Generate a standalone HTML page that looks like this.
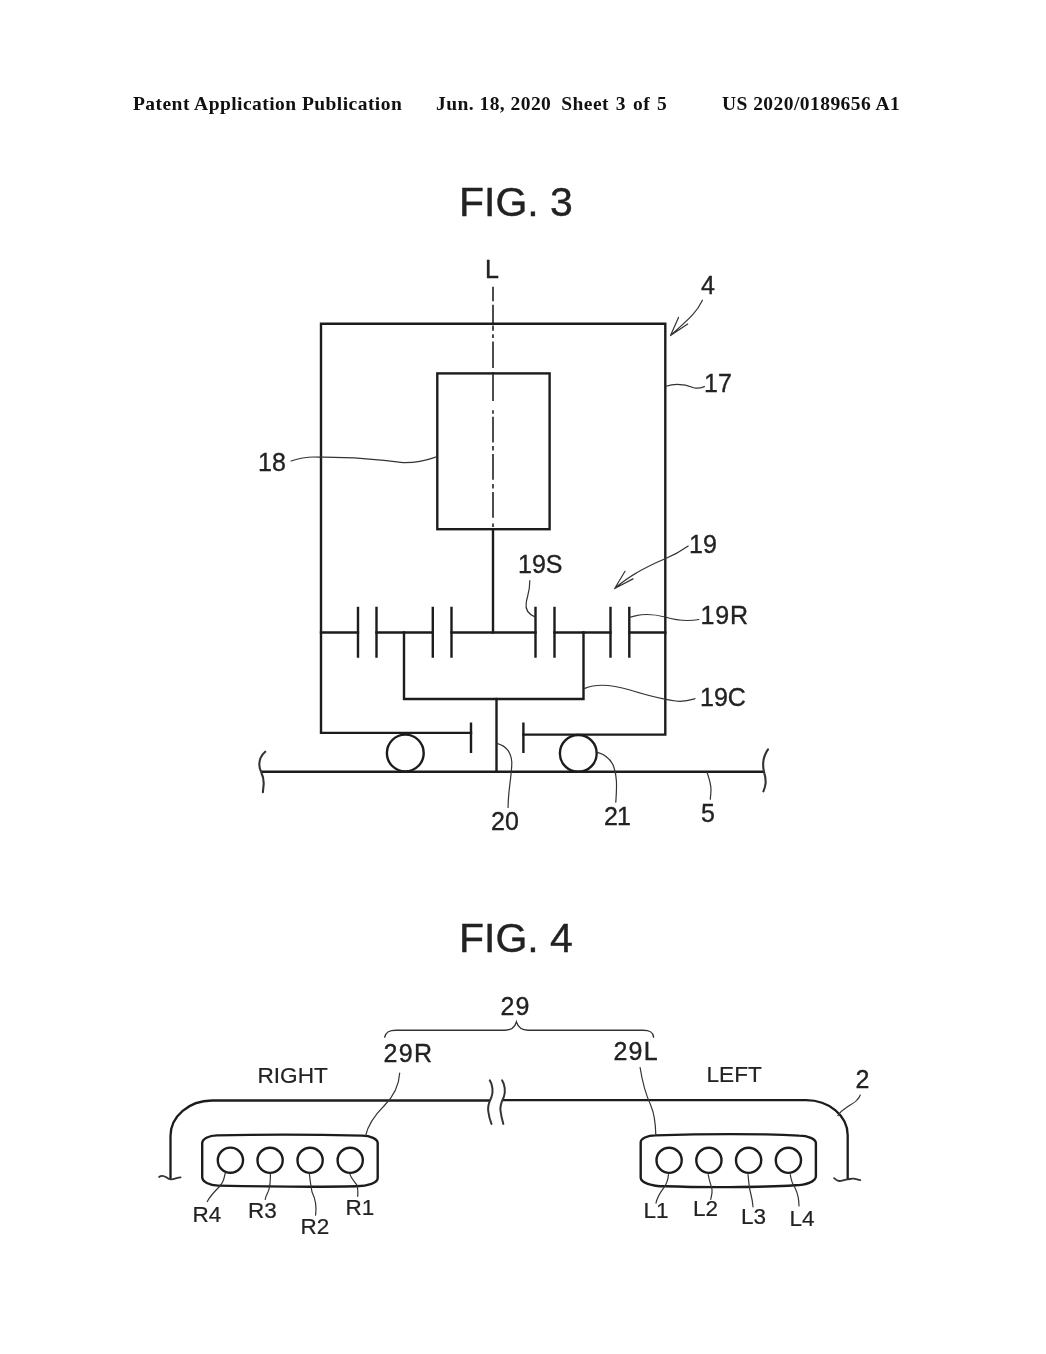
<!DOCTYPE html>
<html><head><meta charset="utf-8"><title>Patent Application Publication - FIG. 3 / FIG. 4</title>
<style>
html,body{margin:0;padding:0;background:#fff;}
body{width:1046px;height:1354px;overflow:hidden;position:relative;}
svg{position:absolute;left:0;top:0;display:block;will-change:transform;}
.hd{font-family:"Liberation Serif",serif;font-weight:bold;font-size:19.5px;fill:#111;letter-spacing:0.45px;}
.fig{font-family:"Liberation Sans",sans-serif;font-size:41px;fill:#222;stroke:#222;stroke-width:0.4px;}
.lb{font-family:"Liberation Sans",sans-serif;font-size:25px;fill:#222;stroke:#222;stroke-width:0.35px;}
.ls{font-family:"Liberation Sans",sans-serif;font-size:22.5px;fill:#222;stroke:#222;stroke-width:0.2px;}
.m{fill:none;stroke:#1c1c1c;stroke-width:2.4;stroke-linecap:square;}
.c{fill:none;stroke:#1c1c1c;stroke-width:2.4;}
.t{fill:none;stroke:#333;stroke-width:1.2;stroke-linecap:round;}
.cl{fill:none;stroke:#222;stroke-width:1.6;}
</style></head>
<body>
<svg width="1046" height="1354" viewBox="0 0 1046 1354">
<!-- header -->
<text class="hd" x="133" y="109.5">Patent Application Publication</text>
<text class="hd" x="436" y="109.5">Jun. 18, 2020</text>
<text class="hd" x="561.2" y="109.5" style="word-spacing:1.6px">Sheet 3 of 5</text>
<text class="hd" x="722" y="109.5">US 2020/0189656 A1</text>

<!-- FIG 3 -->
<text class="fig" x="459" y="216.3">FIG. 3</text>
<text class="lb" x="485" y="278">L</text>
<text class="lb" x="701" y="293.5">4</text>
<text class="lb" x="704" y="391.5">17</text>
<text class="lb" x="258" y="471.2">18</text>
<text class="lb" x="689" y="553">19</text>
<text class="lb" x="518" y="572.5">19S</text>
<text class="lb" x="700.5" y="624.2" style="letter-spacing:0.8px">19R</text>
<text class="lb" x="700" y="706">19C</text>
<text class="lb" x="491" y="830.3">20</text>
<text class="lb" x="604" y="825" style="letter-spacing:-1px">21</text>
<text class="lb" x="701" y="821.5">5</text>

<!-- outer box 17 -->
<path class="m" d="M471 732.9 H321 V323.7 H665.3 V734.6 H523.4"/>
<!-- inner box 18 -->
<rect class="m" x="437.3" y="373.4" width="112.3" height="155.8"/>
<!-- center line L -->
<path class="cl" d="M493 286.7V301.2 M493 304.8V323 M493 325.5V330.7 M493 334.3V338 M493 341.5V368 M493 372V401 M493 410.2V413.8 M493 416.7V442.5 M493 446V450.6 M493 454V479.8 M493 484V488.4 M493 492V517.8 M493 523.5V527"/>
<!-- shaft -->
<path class="m" d="M493 529.2V632.5"/>
<!-- ring line -->
<path class="m" d="M321 632.5H358 M376.5 632.5H432.8 M451.5 632.5H535.5 M554.5 632.5H610.5 M629.3 632.5H665.3"/>
<!-- gear plates -->
<path class="m" d="M358 608V656.5 M376.5 608V656.5 M432.8 608V656.5 M451.5 608V656.5 M535.5 608V656.5 M554.5 608V656.5 M610.5 608V656.5 M629.3 608V656.5"/>
<!-- carrier -->
<path class="m" d="M404 632.5V699H583.5V632.5"/>
<!-- shaft 20 -->
<path class="m" d="M496.5 699V771.7"/>
<!-- bottom plates -->
<path class="m" d="M471 723.6V751.8 M523.4 723.6V751.8"/>
<!-- wheels -->
<circle class="c" cx="405.3" cy="753" r="18.4"/>
<circle class="c" cx="578.3" cy="753.4" r="18.4"/>
<!-- ground -->
<path class="m" style="stroke-linecap:butt" d="M261 771.8H764"/>
<path class="t" style="stroke-width:2.1" d="M265.2 751.7 C262 754.5 259.5 759 259.3 764 C259.3 767.5 260 769.5 261 771.5 C263 776 264 781 263.6 785 C263.3 788 263 790.5 262.9 792.3"/>
<path class="t" style="stroke-width:2.1" d="M768 749.3 C765.5 753 763.5 758 763.2 762.5 C763 766 763.3 769 764 771.9 C765 775 765.8 779 765.6 783 C765.4 786 764.5 789 763.4 791.4"/>

<!-- leaders fig3 -->
<path class="t" d="M702.4 300.2 C697 312 690 318 670.5 335.5 M670.5 335.5 L678.5 317.4 M670.5 335.5 L687.7 324"/>
<path class="t" d="M666 386.2 C676 383 684 384 693.8 387.7 C698 389 701 388 704.4 386.6"/>
<path class="t" d="M291.1 461 C300 458 310 456.5 318.8 457.2 C340 457 370 458 403 462.6 C420 463 430 459 436.4 456.8"/>
<path class="t" d="M688.2 546.1 C680 552 672 556 665.2 558.7 C650 565 630 575 614.7 588.5 M614.7 588.5 L625 571.3 M614.7 588.5 L633 578.9"/>
<path class="t" d="M535.3 617.1 C528 614 525 610 526.2 603 C527 596 530 592 529.8 580.5"/>
<path class="t" d="M630.6 617.1 C640 614 650 613 665 617 C675 620 685 622 698.9 619.5"/>
<path class="t" d="M584.8 688.4 C595 684 610 684 630 690 C650 696 665 700 680 701.4 C688 701 692 699.5 694.9 698.7"/>
<path class="t" d="M497.6 743.6 C506 746 511 752 511.8 762 C512 775 508 790 508.1 807.4"/>
<path class="t" d="M597.7 752.4 C606 755 611 760 613.5 766 C617 775 617 785 615.8 802.1"/>
<path class="t" d="M707 772.3 C709 778 711 784 711 789.7 C711 793 710.5 796 710.3 799.2"/>

<!-- FIG 4 -->
<text class="fig" x="459" y="952">FIG. 4</text>
<text class="lb" x="500.5" y="1015" style="letter-spacing:1px">29</text>
<text class="lb" x="383.5" y="1062" style="letter-spacing:1.3px">29R</text>
<text class="lb" x="613.5" y="1060.4" style="letter-spacing:1.2px">29L</text>
<text class="ls" x="257.5" y="1082.5" style="font-size:22.6px">RIGHT</text>
<text class="ls" x="706.5" y="1081.7" style="font-size:22.6px">LEFT</text>
<text class="lb" x="855.5" y="1087.5">2</text>
<text class="ls" x="192.5" y="1221.5">R4</text>
<text class="ls" x="248" y="1218">R3</text>
<text class="ls" x="300.5" y="1234.1">R2</text>
<text class="ls" x="345.5" y="1215.2">R1</text>
<text class="ls" x="643.5" y="1218">L1</text>
<text class="ls" x="693" y="1216.3">L2</text>
<text class="ls" x="741" y="1223.7">L3</text>
<text class="ls" x="789.5" y="1225.5">L4</text>

<!-- brace 29 -->
<path class="t" style="stroke-width:1.4" d="M384.7 1037.1 C386 1032 389 1030.2 396 1030.2 H505 C512 1030.2 515 1027 516.4 1021.9 C518 1027 521 1030.2 528 1030.2 H643 C650 1030.2 653 1032 653.6 1037.1"/>

<!-- vehicle body 2 -->
<path class="m" style="stroke-width:2.3;stroke-linecap:butt" d="M490 1100.5 H212 A41.5 35.5 0 0 0 170.5 1136 V1179"/>
<path class="m" style="stroke-width:2.3;stroke-linecap:butt" d="M502 1100.2 H806 A41.7 35 0 0 1 847.7 1135.2 V1179"/>
<path class="t" style="stroke-width:1.8" d="M159.1 1177 C161 1175.5 163.5 1175.5 166.3 1177.3 C168.5 1179 170 1179.5 171.5 1179.3 C174.5 1179 177.5 1177.5 180.6 1177.3"/>
<path class="t" style="stroke-width:1.8" d="M834.1 1178.2 C836 1180 837.5 1181 839 1181 C842 1181 845 1179.5 847.5 1179.3 C850 1179 852 1178.5 853.5 1178.7 C856 1179 858 1179.8 860.3 1180.1"/>
<!-- break marks -->
<path class="t" style="stroke-width:2" d="M489.8 1080.3 C492.5 1084 493.5 1092 491.5 1097 C489 1102 487.5 1108 488.4 1112 C489 1117 490 1120 491.5 1123.9"/>
<path class="t" style="stroke-width:2" d="M502.1 1080.3 C504.8 1084 505.8 1092 503.8 1097 C501.3 1102 499.8 1108 500.7 1112 C501.3 1117 502.3 1120 503.3 1123.9"/>

<!-- housings -->
<path class="c" d="M217 1135.4 C260 1134.4 320 1134.6 362 1135.6 A16 7.5 0 0 1 377.7 1143 V1178 A21 8.3 0 0 1 356.5 1186.3 C320 1187 260 1186.5 218 1185.6 A16 8.6 0 0 1 202.2 1177 V1143.5 A15 8 0 0 1 217 1135.4 Z"/>
<path class="c" d="M655.5 1135.4 C700 1134 760 1133.8 799 1135.6 A17 7.5 0 0 1 815.9 1143 V1176.3 A21 9 0 0 1 795 1185.3 C760 1187.6 700 1187.5 664.8 1186.3 A24 8.5 0 0 1 640.7 1177.8 V1142.5 A15 7 0 0 1 655.5 1135.4 Z"/>
<!-- lamps -->
<circle class="c" cx="230.4" cy="1160.2" r="12.6"/>
<circle class="c" cx="270.1" cy="1160.3" r="12.6"/>
<circle class="c" cx="310.1" cy="1160.3" r="12.6"/>
<circle class="c" cx="350.2" cy="1160.3" r="12.6"/>
<circle class="c" cx="669.1" cy="1160.3" r="12.6"/>
<circle class="c" cx="708.9" cy="1160.3" r="12.6"/>
<circle class="c" cx="748.6" cy="1160.3" r="12.6"/>
<circle class="c" cx="788.4" cy="1160.3" r="12.6"/>

<!-- leaders fig4 -->
<path class="t" d="M399.7 1073 C399 1085 393 1097 384 1106 C376 1114 368 1125 365.5 1136"/>
<path class="t" d="M640.1 1067.5 C642 1080 646 1095 651 1106 C654 1113 655.5 1122 655.8 1134.7"/>
<path class="t" d="M837.9 1115.6 C840 1112 843 1109.5 846.5 1107.4 C851 1104.5 855 1102.5 857 1100 C858.5 1098.5 859.5 1097 860.3 1095"/>
<path class="t" d="M225.2 1173.2 C224 1180 222 1184 220 1186 C214 1192 210 1196 207.3 1201.5"/>
<path class="t" d="M270.4 1173.2 C270.5 1180 270.4 1186.8 268 1192 C266.5 1195 265.5 1197 265.2 1199.4"/>
<path class="t" d="M309.3 1173.2 C310 1180 311.4 1188.9 312 1192 C315 1198 317 1205 315.6 1215.2"/>
<path class="t" d="M349.9 1174.2 C351 1178 354 1181 356.7 1184.7 C358 1188 358 1192 357.7 1196.3"/>
<path class="t" d="M668.5 1174.5 C668 1180 666 1185 663.5 1188.2 C660 1193 657 1198 656 1203.1"/>
<path class="t" d="M708.2 1174.5 C709 1180 711 1185 712 1189.4 C712.5 1193 711.5 1196 710.7 1199.4"/>
<path class="t" d="M748 1174.5 C748.5 1180 749 1184 749.3 1186.9 C750 1192 752.5 1198 753 1206.8"/>
<path class="t" d="M790.3 1174.5 C791 1180 793 1185 795.2 1188.2 C797.5 1193 799 1199 799 1206"/>
</svg>
</body></html>
